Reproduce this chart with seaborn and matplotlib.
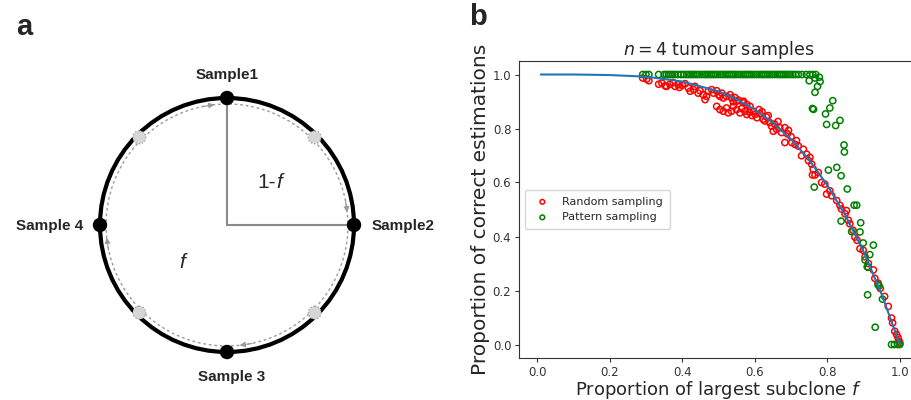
import numpy as np
import pandas as pd
import matplotlib
matplotlib.use("Agg")
import matplotlib.pyplot as plt
import seaborn as sns

# --- panel b data ---
curve_f = [0.01, 0.1, 0.2, 0.3, 0.4, 0.5, 0.55, 0.6, 0.65, 0.7, 0.75, 0.8, 0.85, 0.9, 0.95, 1.0]
curve_p = [1.0, 1.0, 0.998, 0.992, 0.974, 0.938, 0.908, 0.870, 0.821, 0.760, 0.684, 0.590, 0.478, 0.344, 0.185, 0.0]

random_f = [0.291, 0.302, 0.308, 0.335, 0.344, 0.353, 0.357, 0.366, 0.375, 0.380, 0.389, 0.392,
            0.400, 0.408, 0.417, 0.422, 0.431, 0.435, 0.444, 0.449, 0.458, 0.463, 0.467, 0.472,
            0.481, 0.486, 0.495, 0.500, 0.504, 0.509, 0.513, 0.522, 0.532, 0.536, 0.545, 0.555,
            0.495, 0.504, 0.513, 0.522, 0.527, 0.536, 0.541, 0.550, 0.559, 0.564, 0.573, 0.578,
            0.569, 0.550, 0.541, 0.585, 0.592, 0.569, 0.578, 0.587, 0.596, 0.601, 0.606, 0.614,
            0.623, 0.628, 0.632, 0.641, 0.646, 0.655, 0.660, 0.651, 0.669, 0.674, 0.683, 0.693,
            0.683, 0.702, 0.711, 0.720, 0.729, 0.734, 0.743, 0.748, 0.752, 0.757, 0.761, 0.759,
            0.766, 0.775, 0.784, 0.793, 0.798, 0.807, 0.812, 0.826, 0.835, 0.839, 0.853, 0.849,
            0.858, 0.862, 0.871, 0.876, 0.882, 0.890, 0.899, 0.904, 0.913, 0.927, 0.931, 0.940,
            0.946, 0.958, 0.968, 0.977, 0.980, 0.986, 0.991, 0.995, 1.000, 0.998,
            0.612, 0.620, 0.637, 0.664, 0.690, 0.700, 0.715]
random_p = [0.987, 0.983, 0.977, 0.964, 0.968, 0.958, 0.956, 0.964, 0.970, 0.956, 0.962, 0.952,
            0.960, 0.966, 0.950, 0.938, 0.944, 0.956, 0.931, 0.940, 0.925, 0.907, 0.919, 0.938,
            0.944, 0.931, 0.940, 0.925, 0.919, 0.931, 0.913, 0.919, 0.925, 0.913, 0.915, 0.905,
            0.882, 0.870, 0.864, 0.876, 0.858, 0.864, 0.882, 0.870, 0.858, 0.874, 0.864, 0.852,
            0.895, 0.901, 0.899, 0.860, 0.848, 0.901, 0.889, 0.882, 0.864, 0.852, 0.840, 0.855,
            0.834, 0.828, 0.843, 0.822, 0.809, 0.816, 0.797, 0.790, 0.803, 0.785, 0.803, 0.793,
            0.748, 0.748, 0.741, 0.735, 0.699, 0.723, 0.705, 0.681, 0.693, 0.668, 0.650, 0.628,
            0.628, 0.637, 0.600, 0.594, 0.557, 0.569, 0.551, 0.533, 0.515, 0.502, 0.496, 0.484,
            0.460, 0.447, 0.423, 0.398, 0.386, 0.355, 0.349, 0.325, 0.300, 0.276, 0.245, 0.227,
            0.208, 0.178, 0.141, 0.098, 0.080, 0.049, 0.037, 0.025, 0.006, 0.012,
            0.870, 0.862, 0.848, 0.826, 0.780, 0.770, 0.755]

pattern_f = [0.291, 0.300, 0.308, 0.335, 0.350, 0.356, 0.362, 0.368, 0.374, 0.380, 0.388, 0.396,
             0.404, 0.412, 0.418, 0.424, 0.430, 0.436, 0.442, 0.448, 0.455, 0.462, 0.468, 0.474,
             0.480, 0.486, 0.492, 0.498, 0.505, 0.512, 0.518, 0.524, 0.530, 0.536, 0.542, 0.548,
             0.555, 0.562, 0.568, 0.574, 0.580, 0.586, 0.592, 0.598, 0.605, 0.612, 0.618, 0.624,
             0.630, 0.636, 0.642, 0.648, 0.655, 0.662, 0.668, 0.674, 0.680, 0.686, 0.692, 0.698,
             0.705, 0.712, 0.720, 0.730, 0.742, 0.752, 0.760, 0.768,
             0.750, 0.766, 0.778, 0.780, 0.773, 0.766, 0.759, 0.762, 0.815, 0.807, 0.795, 0.798,
             0.823, 0.835, 0.846, 0.847, 0.803, 0.826, 0.838, 0.855, 0.764, 0.874, 0.881, 0.838,
             0.892, 0.890, 0.867, 0.899, 0.927, 0.917, 0.904, 0.910, 0.913, 0.940, 0.943, 0.911,
             0.952, 0.932, 0.977, 0.985, 0.994, 1.000]
pattern_p = [1.0, 1.0, 1.0, 1.0, 1.0, 1.0, 1.0, 1.0, 1.0, 1.0, 1.0, 1.0,
             1.0, 1.0, 1.0, 1.0, 1.0, 1.0, 1.0, 1.0, 1.0, 1.0, 1.0, 1.0,
             1.0, 1.0, 1.0, 1.0, 1.0, 1.0, 1.0, 1.0, 1.0, 1.0, 1.0, 1.0,
             1.0, 1.0, 1.0, 1.0, 1.0, 1.0, 1.0, 1.0, 1.0, 1.0, 1.0, 1.0,
             1.0, 1.0, 1.0, 1.0, 1.0, 1.0, 1.0, 1.0, 1.0, 1.0, 1.0, 1.0,
             1.0, 1.0, 1.0, 1.0, 1.0, 1.0, 1.0, 1.0,
             0.977, 0.987, 0.990, 0.974, 0.956, 0.934, 0.874, 0.871, 0.903, 0.876, 0.854, 0.815,
             0.811, 0.830, 0.739, 0.713, 0.646, 0.656, 0.625, 0.576, 0.583, 0.516, 0.516, 0.457,
             0.451, 0.417, 0.418, 0.376, 0.368, 0.333, 0.313, 0.288, 0.286, 0.221, 0.217, 0.184,
             0.168, 0.064, 0.0, 0.0, 0.0, 0.0]

# --- panel a schematic ---
SAMPLE_NAMES = ["Sample1", "Sample2", "Sample 3", "Sample 4"]
SAMPLE_ANGLES = [90, 0, -90, 180]
GHOST_ANGLES = [45, 135, 225, 315]

sns.set_style("ticks")
plt.rcParams['font.family'] = ['DejaVu Sans']

fig = plt.figure(figsize=(9.11, 4.0), dpi=100)

# ---------- a ----------
axa = fig.add_axes([0, 0, 460 / 911, 1])
axa.set_xlim(0, 460)
axa.set_ylim(400, 0)
axa.set_aspect("equal")
axa.axis("off")
cx, cy, R, r_in = 227, 225, 127, 121

def on_circle(r, deg):
    t = np.deg2rad(deg)
    return cx + r * np.cos(t), cy - r * np.sin(t)

th = np.linspace(0, 2 * np.pi, 400)
axa.plot(cx + r_in * np.cos(th), cy + r_in * np.sin(th), color="#9a9a9a", lw=1,
         linestyle=(0, (2, 2)))
axa.add_patch(plt.Circle((cx, cy), R, fill=False, lw=3, color="black", zorder=3))
axa.plot([cx, cx], [cy, cy - R], color="#8a8a8a", lw=1.5)
axa.plot([cx, cx + R], [cy, cy], color="#8a8a8a", lw=1.5)

for ang in GHOST_ANGLES:
    gx, gy = on_circle(124, ang)
    axa.add_patch(plt.Circle((gx, gy), 6.5, facecolor="#d6d6d6", edgecolor="#999999",
                             lw=0.9, linestyle=":", zorder=4))

for ang in SAMPLE_ANGLES:
    tip = on_circle(r_in, ang + 6)
    tail = on_circle(r_in, ang + 12)
    axa.annotate("", xy=tip, xytext=tail,
                 arrowprops=dict(arrowstyle="-|>", color="#9a9a9a", lw=0.8,
                                 mutation_scale=8, shrinkA=0, shrinkB=0))
    sx, sy = on_circle(R, ang)
    axa.add_patch(plt.Circle((sx, sy), 6.5, color="black", zorder=5))

lab_font = dict(family=["Liberation Sans", "DejaVu Sans"], fontweight="bold", fontsize=11)
axa.text(cx, 75, SAMPLE_NAMES[0], ha="center", va="center", **lab_font)
axa.text(372, 226, SAMPLE_NAMES[1], ha="left", va="center", **lab_font)
axa.text(232, 377, SAMPLE_NAMES[2], ha="center", va="center", **lab_font)
axa.text(83, 226, SAMPLE_NAMES[3], ha="right", va="center", **lab_font)

txt_font = dict(family=["Liberation Sans", "DejaVu Sans"], fontsize=15)
axa.text(276, 183, "1-", ha="right", va="center", **txt_font)
axa.text(276, 183, "f", ha="left", va="center", style="italic", **txt_font)
axa.text(182, 262, "f", ha="center", va="center", style="italic", **txt_font)

fig.text(24 / 911, 1 - 27 / 400, "a", ha="center", va="center", fontsize=21,
         fontweight="bold", family=["Liberation Sans", "DejaVu Sans"])
fig.text(478 / 911, 1 - 17 / 400, "b", ha="center", va="center", fontsize=21,
         fontweight="bold", family=["Liberation Sans", "DejaVu Sans"])

# ---------- b ----------
ax = fig.add_axes([519 / 911, 42 / 400, 399 / 911, 297 / 400])
sns.scatterplot(x=random_f, y=random_p, ax=ax, marker="o", s=20, facecolor="none",
                edgecolor="red", linewidth=1.1, label="Random sampling", zorder=2)
sns.scatterplot(x=pattern_f, y=pattern_p, ax=ax, marker="o", s=20, facecolor="none",
                edgecolor="green", linewidth=1.1, label="Pattern sampling", zorder=3)
sns.lineplot(x=curve_f, y=curve_p, ax=ax, color="#1f77b4", lw=1.5, zorder=4)

ax.set_xlim(-0.05, 1.05)
ax.set_ylim(-0.05, 1.05)
ax.set_xticks(np.arange(0, 1.01, 0.2))
ax.set_yticks(np.arange(0, 1.01, 0.2))
ax.tick_params(labelsize=8.5, length=3, pad=2.5, colors="#333333")
for sp in ax.spines.values():
    sp.set_visible(True)
    sp.set_color("#333333")
ax.set_title("$n = 4$ tumour samples", fontsize=12.5, pad=4)
ax.set_xlabel("Proportion of largest subclone $f$", fontsize=13, labelpad=0)
ax.set_ylabel("Proportion of correct estimations", fontsize=14.5, labelpad=2)
leg = ax.legend(loc="center left", fontsize=8, markerscale=0.75, frameon=True,
                handletextpad=0.8, borderpad=0.6)
leg.get_frame().set_edgecolor("#cccccc")

fig.savefig("out.png", dpi=100)
